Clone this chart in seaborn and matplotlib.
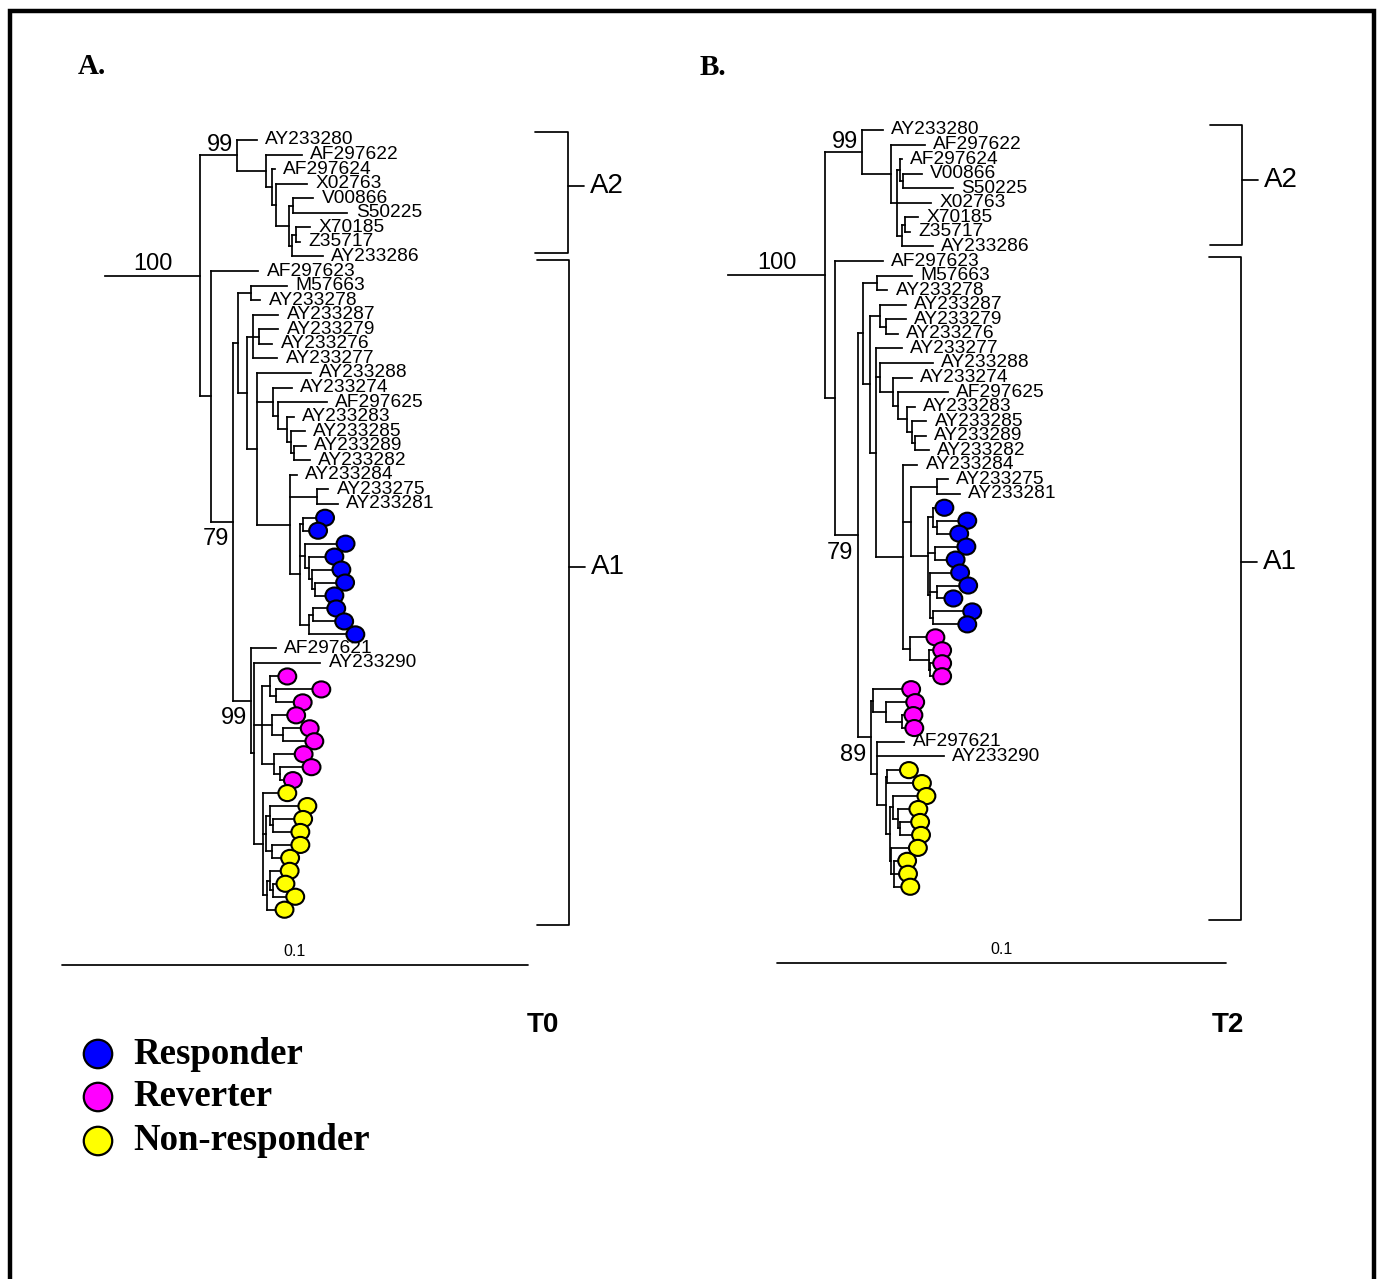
import matplotlib
matplotlib.use("Agg")
import matplotlib.pyplot as plt
from matplotlib.markers import MarkerStyle
from matplotlib.path import Path
from matplotlib.transforms import Affine2D
import seaborn as sns
import pandas as pd

# branch lengths are in 0.001 substitutions/site (scale bar = 100)
# leaves named R / V / N are patient clones: responder / reverter / non-responder
categories = ["Responder", "Reverter", "Non-responder"]
codes = {"R": "Responder", "V": "Reverter", "N": "Non-responder"}
palette = {"Responder": "#0000ff", "Reverter": "#ff00ff", "Non-responder": "#ffff00"}
scale_bar_len = 100
scale_bar_label = "0.1"

# ---- tree A (T0) ----
a2_t0 = ("(AY233280:4.3,(AF297622:7.7,(AF297624:0.6,(X02763:6.7,((V00866:4.3,S50225:11.6):0.9,"
         "((X70185:3.0,Z35717:0.9):0.9,AY233286:6.7):0.6):2.8):0.9):1.3):6.2)99:7.9")
blue_t0 = ("((R:3.0,R:1.5):0.6,(R:6.9,(R:3.6,(R:4.5,(R:4.7,R:2.4):0.6):0.6):0.9):1.1,"
           "((R:3.2,R:4.9):0.9,R:8.2):1.9):2.1")
pink_t0 = ("((V:1.9,(V:7.9,V:3.9):1.3):1.7,(V:3.4,(V:3.9,V:4.9):2.4):2.1,"
           "(V:4.5,(V:4.9,V:0.9):1.3):2.6):1.7")
yel_t0 = ("(N:3.4,((N:6.2,(N:4.7,N:4.1):0.6):0.9,(N:4.3,N:2.1):1.3):0.6,"
          "((N:2.4,(N:0.9,N:3.0):0.6):0.6,N:1.9):0.9):1.9")
mid_t0 = ("(AY233274:4.1,(AF297625:10.5,(AY233283:1.5,(AY233285:3.0,"
          "(AY233289:2.6,AY233282:3.4):0.6):0.9):1.9):1.1):3.4")
m_t0 = "(AY233284:1.5,(AY233275:2.4,AY233281:4.5):5.8," + blue_t0 + "):7.1"
q_t0 = ("((AY233287:5.4,(AY233279:4.1,AY233276:2.8):1.3,AY233277:5.2):1.3,"
        "(AY233288:11.6," + mid_t0 + "," + m_t0 + "):2.1):1.9")
u_t0 = "((M57663:7.7,AY233278:1.9):2.8," + q_t0 + "):1.1"
n99_t0 = "(AF297621:5.2,(AY233290:14.2," + pink_t0 + "," + yel_t0 + "):0.6)99:3.9"
a1_t0 = "(AF297623:10.1,(" + u_t0 + "," + n99_t0 + ")79:4.7):2.4"
newick_t0 = "(" + a2_t0 + "," + a1_t0 + ")100:20.4;"

# ---- tree B (T2) ----
a2_t2 = ("(AY233280:4.7,(AF297622:7.6,((AF297624:0.4,(V00866:4.2,S50225:11.1):0.7):0.7,"
         "X02763:7.6,((X70185:2.9,Z35717:1.1):0.7,AY233286:6.9):1.1):1.3):6.5)99:8.2")
blue_t2 = ("((R:0.7,(R:4.9,R:3.1):0.9):1.1,(R:5.1,R:2.7):1.6,"
           "(R:4.9,(R:5.1,R:1.8):1.6,(R:6.9,R:5.8):0.7):0.4):3.8")
pink1_t2 = "(V:3.8,(V:1.1,(V:0.7,V:0.7):0.4):4.2):1.6"
pink2_t2 = "(V:6.7,(V:4.7,(V:0.7,V:0.9):3.6):2.9):0.4"
yel_t2 = ("((N:2.9,N:5.8):0.4,((N:5.6,(N:2.7,(N:2.7,N:2.9):0.4):1.1):0.7,"
          "(N:4.2,(N:1.1,N:1.3,N:1.8):0.7):0.2):0.9):2.0")
mid_t2 = ("(AY233274:4.2,(AF297625:11.1,(AY233283:1.8,(AY233285:3.3,"
          "(AY233289:2.4,AY233282:3.1):0.7):1.1):2.0):1.1):2.9")
x_t2 = ("(AY233284:3.3,((AY233275:2.4,AY233281:5.1):5.8," + blue_t2 + "):1.8,"
        + pink1_t2 + "):6.0")
u_t2 = ("((M57663:7.8,AY233278:2.4):3.1,((AY233287:5.8,(AY233279:4.5,AY233276:2.7):1.3):2.2,"
        "(AY233277:5.8,(AY233288:11.8," + mid_t2 + "):0.9," + x_t2 + "):1.3):1.6):1.1")
n89_t2 = "(" + pink2_t2 + ",(AF297621:6.2,AY233290:14.9," + yel_t2 + "):1.3)89:2.9"
a1_t2 = "(AF297623:10.7,(" + u_t2 + "," + n89_t2 + ")79:5.1):2.2"
newick_t2 = "(" + a2_t2 + "," + a1_t2 + ")100:21.6;"

W, H = 1382, 1279
SANS = ["Liberation Sans", "DejaVu Sans"]
SERIF = ["Liberation Serif", "DejaVu Serif"]
LW = 1.25
CIRCLE_STEP = 0.89   # circle tips sit a bit closer than labelled tips


def parse_newick(s):
    pos = 0

    def node():
        nonlocal pos
        kids = []
        if s[pos] == "(":
            pos += 1
            kids.append(node())
            while s[pos] == ",":
                pos += 1
                kids.append(node())
            pos += 1
        start = pos
        while s[pos] not in ":,);":
            pos += 1
        name = s[start:pos]
        length = 0.0
        if s[pos] == ":":
            pos += 1
            start = pos
            while s[pos] not in ",);":
                pos += 1
            length = float(s[start:pos])
        return {"name": name, "len": length, "kids": kids}

    return node()


def layout(tree):
    leaves, hl, vl, sup = [], [], [], []
    state = {"y": None, "w": None}

    def walk(n, xp, first, root=False):
        x = xp + n["len"]
        if not n["kids"]:
            w = CIRCLE_STEP if n["name"] in codes else 1.0
            y = 0.0 if state["y"] is None else state["y"] + (state["w"] + w) / 2
            state["y"], state["w"] = y, w
            leaves.append((n["name"], x, y))
        else:
            ys = [walk(c, x, i == 0) for i, c in enumerate(n["kids"])]
            y = (ys[0] + ys[-1]) / 2
            vl.append((x, ys[0], ys[-1]))
            if n["name"]:
                sup.append((n["name"], xp, x, y, first, root))
        hl.append((xp, x, y))
        return y

    walk(tree, 0.0, True, root=True)
    return leaves, hl, vl, sup


def ellipse_marker():
    return MarkerStyle(Path.unit_circle().transformed(Affine2D().scale(1.11, 1.0)))


def draw_tree(fig, newick, x0, y0, px_per_unit, px_per_leaf, bar_px):
    ax = fig.add_axes([0, 0, 1, 1])
    ax.set_facecolor("none")
    leaves, hl, vl, sup = layout(parse_newick(newick))

    lc = ax.hlines([h[2] for h in hl], [h[0] for h in hl], [h[1] for h in hl],
                   color="black", lw=LW)
    lc.set_capstyle("projecting")
    lc = ax.vlines([v[0] for v in vl], [v[1] for v in vl], [v[2] for v in vl],
                   color="black", lw=LW)
    lc.set_capstyle("projecting")

    for name, x, y in leaves:
        if name not in codes:
            ax.annotate(name, (x, y), xytext=(6, 0), textcoords="offset points",
                        ha="left", va="center", fontsize=13.8, family=SANS, color="black")

    shift = 8.5 / px_per_unit
    tips = pd.DataFrame([(x + shift, y, codes[n]) for n, x, y in leaves if n in codes],
                        columns=["x", "y", "group"])
    sns.scatterplot(data=tips, x="x", y="y", hue="group", palette=palette,
                    marker=ellipse_marker(), s=165, edgecolor="black", linewidth=1.5,
                    legend=False, ax=ax, zorder=3)

    for label, xp, x, y, first, root in sup:
        if root:
            xy, off, ha = ((xp + x) / 2, y), (0, 4), "center"
        elif first:
            xy, off, ha = (x, y), (-3, 3), "right"
        else:
            xy, off, ha = (x, y), (-3, -17), "right"
        ax.annotate(label, xy, xytext=off, textcoords="offset points", ha=ha,
                    va="baseline", fontsize=17, family=SANS, color="black")

    # scale bar
    bx = (bar_px[0] - x0) / px_per_unit
    by = (bar_px[1] - y0) / px_per_leaf
    ax.plot([bx, bx + scale_bar_len], [by, by], color="black", lw=LW)
    ax.annotate(scale_bar_label, (bx + scale_bar_len / 2, by), xytext=(0, 4),
                textcoords="offset points", ha="center", va="bottom", fontsize=11.5,
                family=SANS, color="black")

    ax.set_xlim(-x0 / px_per_unit, (W - x0) / px_per_unit)
    ax.set_ylim((H - y0) / px_per_leaf, -y0 / px_per_leaf)
    ax.axis("off")
    return ax


sns.set_style("white")
plt.rcParams["font.family"] = SANS
plt.rcParams["text.color"] = "black"

fig = plt.figure(figsize=(W / 100, H / 100), dpi=100)
bg = fig.add_axes([0, 0, 1, 1])

# outer frame (open at the bottom)
bg.plot([10, 10, 1374, 1374], [H + 20, 11, 11, H + 20], color="black", lw=3.2,
        solid_joinstyle="miter")

bg.text(78, 74, "A.", fontsize=21, fontweight="bold", family=SERIF, va="baseline")
bg.text(700, 75, "B.", fontsize=21, fontweight="bold", family=SERIF, va="baseline")
bg.text(543, 1025, "T0", fontsize=20, fontweight="bold", family=SANS, ha="center", va="center")
bg.text(1228, 1025, "T2", fontsize=20, fontweight="bold", family=SANS, ha="center", va="center")

# clade brackets: (x, top, bottom, inner x, tick y, label)
brackets = [
    (568, 132, 253, 535, 186, "A2"),
    (569, 260, 925, 537, 567, "A1"),
    (1242, 125, 245, 1210, 180, "A2"),
    (1241, 257, 920, 1209, 562, "A1"),
]
for bx, top, bot, inner, ty, lab in brackets:
    bg.plot([inner, bx, bx, inner], [top, top, bot, bot], color="black", lw=LW)
    bg.plot([bx, bx + 16], [ty, ty], color="black", lw=LW)
    bg.text(bx + 22, ty, lab, fontsize=20, family=SANS, va="center", ha="left")

# legend
leg = pd.DataFrame({"x": [98, 98, 98], "y": [1054, 1097, 1141], "group": categories})
sns.scatterplot(data=leg, x="x", y="y", hue="group", palette=palette, s=420,
                edgecolor="black", linewidth=1.6, legend=False, ax=bg, zorder=3)
for _, row in leg.iterrows():
    bg.text(row["x"] + 35, row["y"], row["group"], fontsize=26.5, fontweight="bold",
            family=SERIF, va="center", ha="left")
bg.set_xlim(0, W)
bg.set_ylim(H, 0)
bg.axis("off")

draw_tree(fig, newick_t0, 105, 140, 4.66, 14.56, (62, 965))
draw_tree(fig, newick_t2, 728, 130, 4.49, 14.56, (777, 963))

fig.savefig("out.png", dpi=100)
